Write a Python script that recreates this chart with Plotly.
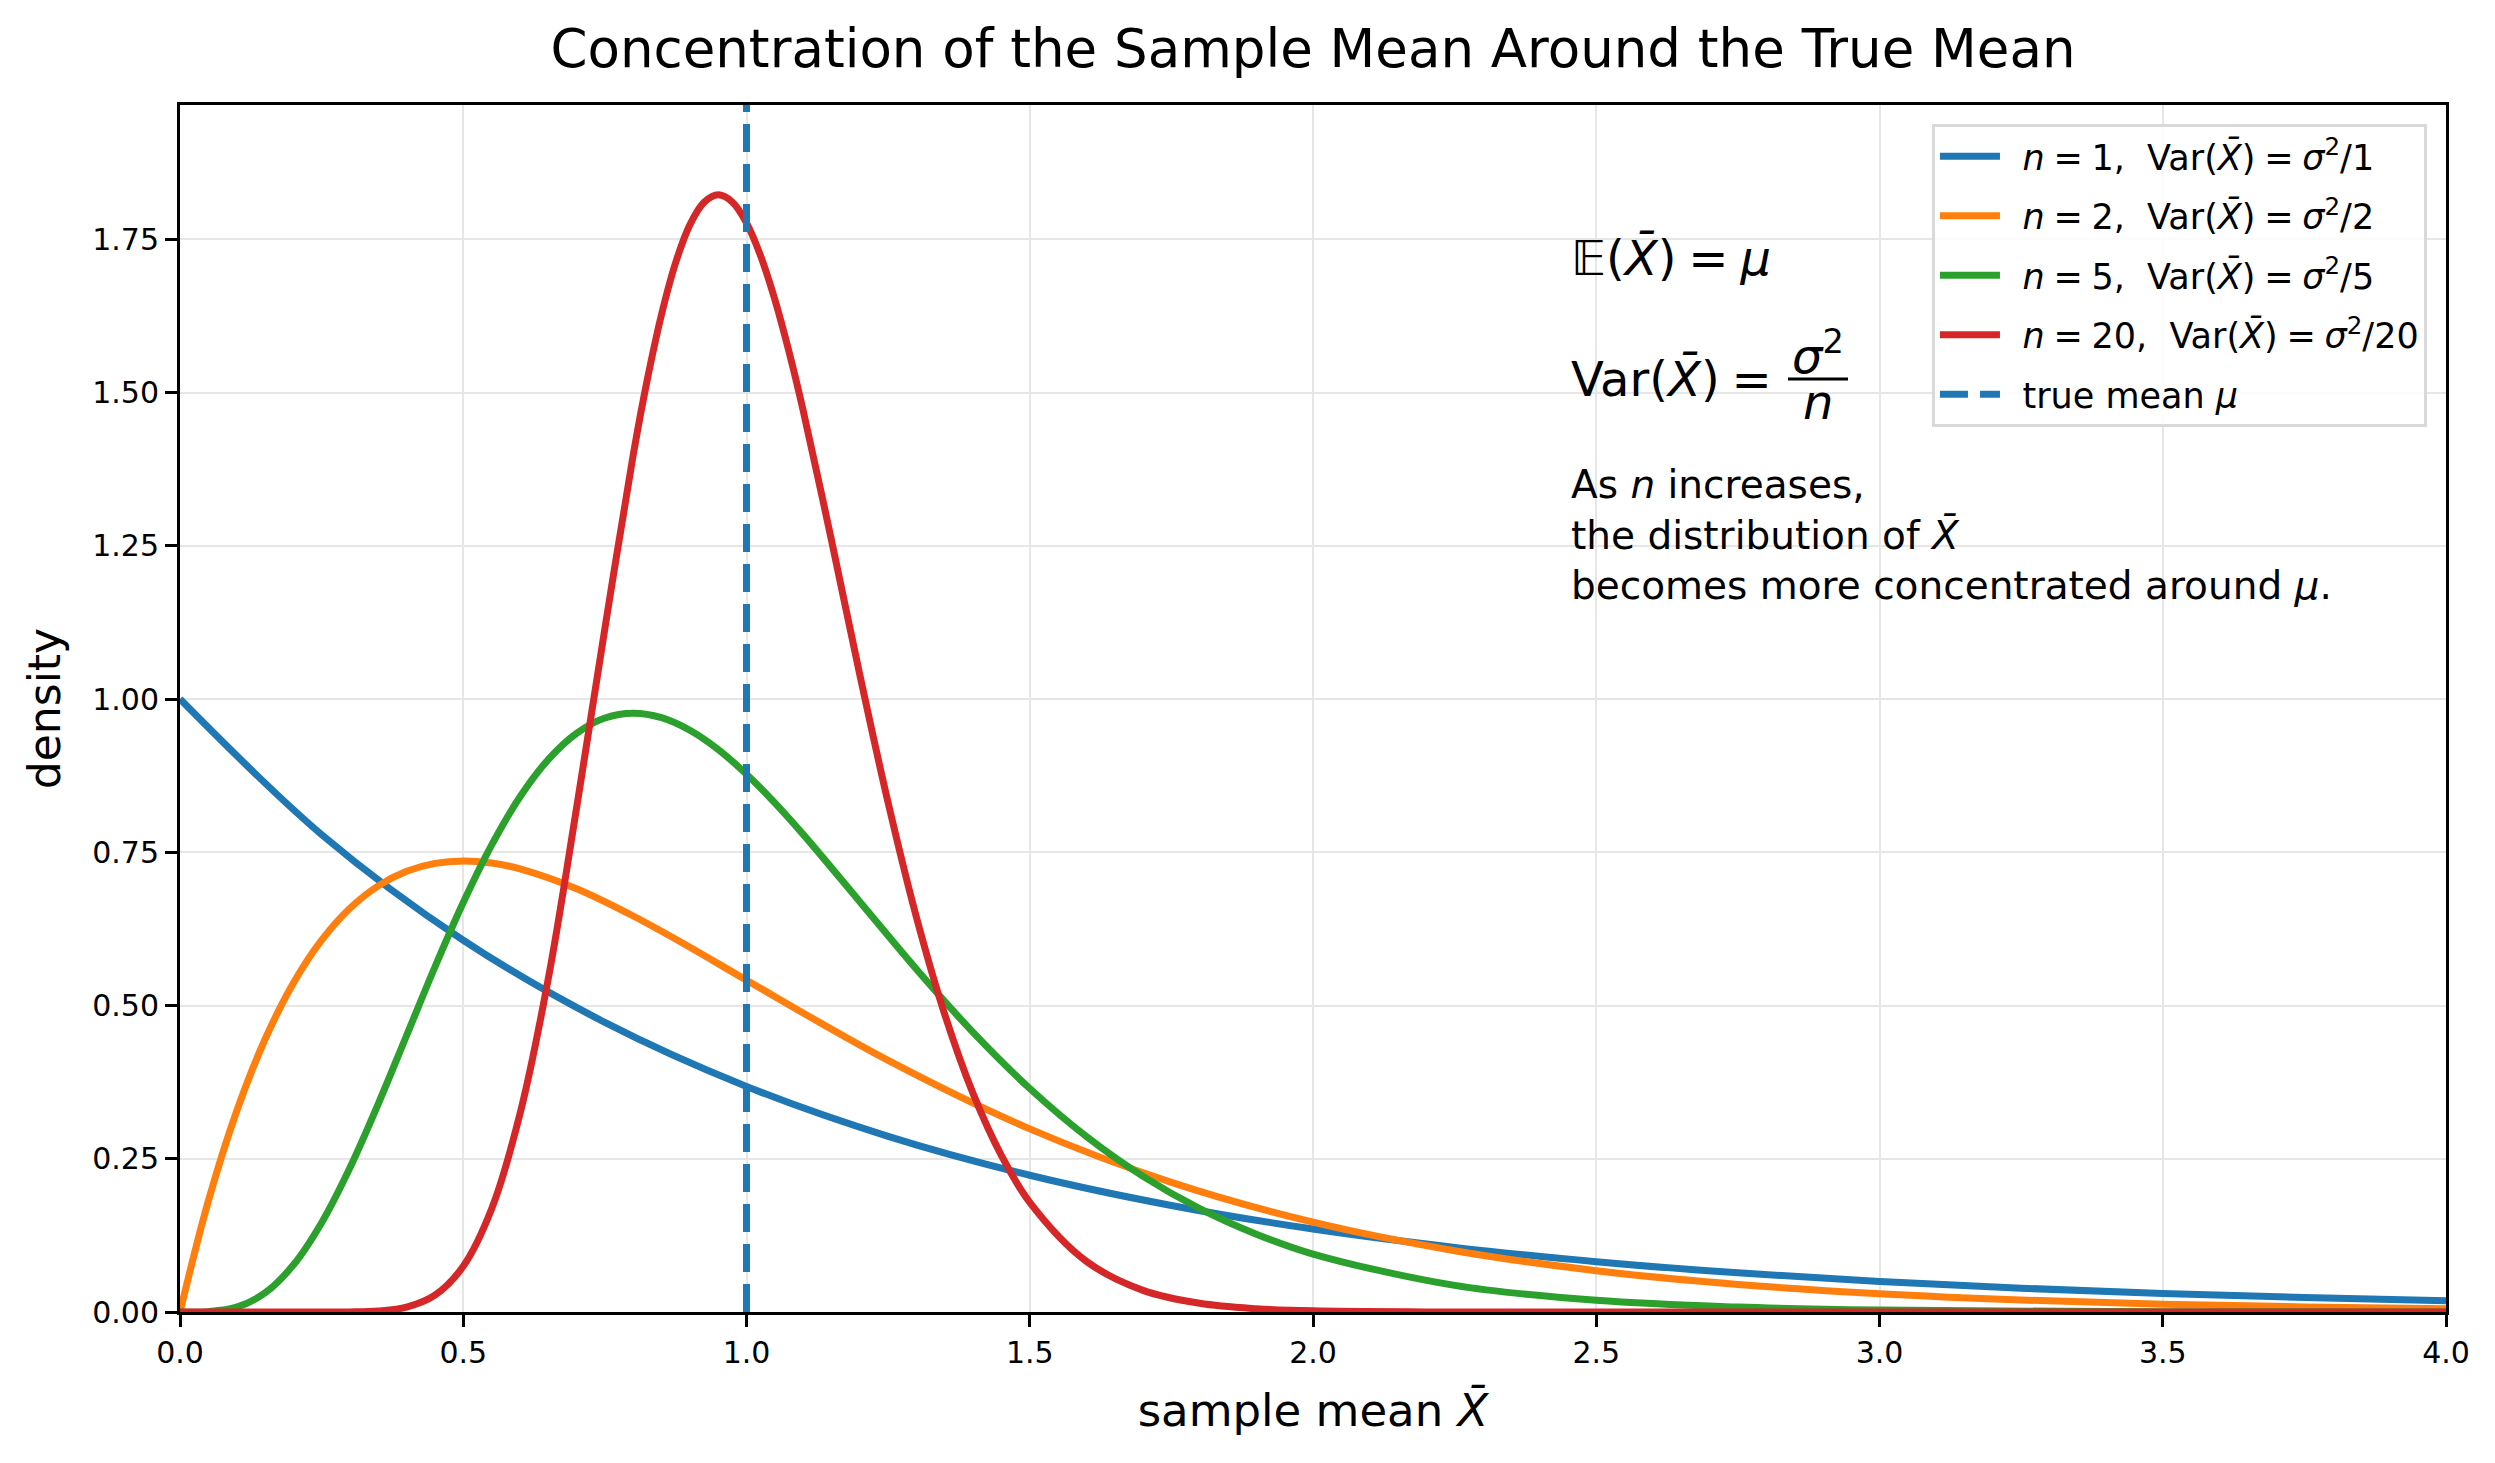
import plotly.graph_objects as go

# ---- data ----
x_n1 = [0, 0.25, 0.5, 0.75, 1.0, 1.25, 1.5, 1.75, 2.0, 2.25, 2.5, 2.75, 3.0, 3.25, 3.5, 3.75, 4.0]
y_n1 = [1.0, 0.7788, 0.6065, 0.4724, 0.3679, 0.2865, 0.2231, 0.1738, 0.1353, 0.1054, 0.0821,
        0.0639, 0.0498, 0.0388, 0.0302, 0.0235, 0.0183]

x_n2 = [0, 0.05, 0.1, 0.15, 0.2, 0.25, 0.3, 0.35, 0.4, 0.45, 0.5, 0.55, 0.6, 0.7, 0.8, 0.9, 1.0,
        1.25, 1.5, 1.75, 2.0, 2.25, 2.5, 2.75, 3.0, 3.25, 3.5, 3.75, 4.0]
y_n2 = [0.0, 0.1810, 0.3275, 0.4445, 0.5363, 0.6065, 0.6586, 0.6952, 0.7189, 0.7318, 0.7358,
        0.7324, 0.7229, 0.6905, 0.6460, 0.5951, 0.5413, 0.4104, 0.2987, 0.2114, 0.1465, 0.1000,
        0.0674, 0.0450, 0.0297, 0.0195, 0.0128, 0.0083, 0.0054]

x_n5 = [0, 0.05, 0.1, 0.15, 0.2, 0.25, 0.3, 0.35, 0.4, 0.45, 0.5, 0.55, 0.6, 0.65, 0.7, 0.75,
        0.8, 0.85, 0.9, 0.95, 1.0, 1.05, 1.1, 1.2, 1.3, 1.4, 1.5, 1.6, 1.7, 1.8, 1.9, 2.0, 2.25,
        2.5, 2.75, 3.0, 3.5, 4.0]
y_n5 = [0.0, 0.0006, 0.0079, 0.0311, 0.0766, 0.1457, 0.2353, 0.3395, 0.4511, 0.5628, 0.6680,
        0.7617, 0.8402, 0.9012, 0.9440, 0.9689, 0.9768, 0.9695, 0.9490, 0.9176, 0.8773, 0.8305,
        0.7791, 0.6693, 0.5591, 0.4561, 0.3646, 0.2863, 0.2213, 0.1687, 0.1270, 0.0946, 0.0434,
        0.0190, 0.0080, 0.0032, 0.0005, 0.0001]

x_n20 = [0, 0.1, 0.2, 0.25, 0.3, 0.35, 0.4, 0.45, 0.5, 0.55, 0.6, 0.65, 0.7, 0.75, 0.8, 0.825,
         0.85, 0.875, 0.9, 0.925, 0.95, 0.975, 1.0, 1.025, 1.05, 1.075, 1.1, 1.15, 1.2, 1.25,
         1.3, 1.35, 1.4, 1.45, 1.5, 1.6, 1.7, 1.8, 1.9, 2.0, 2.2, 2.5, 3.0, 4.0]
y_n20 = [0.0, 0.0, 0.0, 0.0, 0.0002, 0.0017, 0.0079, 0.0274, 0.0746, 0.1679, 0.3227, 0.5433,
         0.8219, 1.1149, 1.3980, 1.5215, 1.6273, 1.7120, 1.7735, 1.8102, 1.8224, 1.8107, 1.7768,
         1.7227, 1.6516, 1.5665, 1.4706, 1.2589, 1.0396, 0.8307, 0.6438, 0.4852, 0.3562, 0.2552,
         0.1788, 0.0825, 0.0353, 0.0142, 0.0054, 0.0019, 0.0002, 0.0, 0.0, 0.0]

true_mean = 1.0
x_range = [0, 4]
y_range = [0, 1.969]
x_ticks = [0.0, 0.5, 1.0, 1.5, 2.0, 2.5, 3.0, 3.5, 4.0]
y_ticks = [0.0, 0.25, 0.5, 0.75, 1.0, 1.25, 1.5, 1.75]

SP = "\u2005"   # narrow math spacing around '='
LEAD = "\u2002"  # gap between legend line sample and its text
def var_label(n):
    return f"{LEAD}<i>n</i>{SP}={SP}{n},  Var(<i>X̄</i>){SP}={SP}<i>σ</i><sup>2</sup>/{n}"

series = [
    (x_n1, y_n1, "#1f77b4", var_label(1)),
    (x_n2, y_n2, "#ff7f0e", var_label(2)),
    (x_n5, y_n5, "#2ca02c", var_label(5)),
    (x_n20, y_n20, "#d62728", var_label(20)),
]

FONT = "DejaVu Sans"
W, H = 2495, 1463
L, R, T, B = 180, 49, 105, 151

fig = go.Figure()
for i, (xs, ys, col, name) in enumerate(series):
    fig.add_trace(go.Scatter(x=xs, y=ys, mode="lines", name=name, legendgroup=f"g{i}",
                             line=dict(color=col, width=7, shape="spline", smoothing=1.0)))

fig.add_trace(go.Scatter(x=[true_mean, true_mean], y=y_range, mode="lines",
                         name=f"{LEAD}true mean <i>μ</i>", legendgroup="gmean",
                         line=dict(color="#1f77b4", width=7, dash="28px,12px")))

axis_common = dict(
    showline=True, linecolor="black", linewidth=3, mirror=True,
    ticks="outside", ticklen=12, tickwidth=3, tickcolor="black",
    showgrid=True, gridcolor="#e6e6e6", gridwidth=2,
    zeroline=False,
    tickfont=dict(family=FONT, size=30, color="black"),
)

fig.update_layout(
    width=W, height=H,
    margin=dict(l=L, r=R, t=T, b=B),
    paper_bgcolor="white", plot_bgcolor="white",
    font=dict(family=FONT, color="black"),
    title=dict(text="Concentration of the Sample Mean Around the True Mean",
               x=0.5, xref="paper", xanchor="center", y=1 - 48 / H, yanchor="middle",
               font=dict(family=FONT, size=53, color="black")),
    xaxis=dict(range=x_range, tickvals=x_ticks, ticktext=[f"{v:.1f}" for v in x_ticks],
               title=dict(text="sample mean <i>X̄</i>", font=dict(family=FONT, size=45, color="black"),
                          standoff=26),
               **axis_common),
    yaxis=dict(range=y_range, tickvals=y_ticks, ticktext=[f"{v:.2f}" for v in y_ticks],
               title=dict(text="density", font=dict(family=FONT, size=44, color="black"),
                          standoff=18),
               **axis_common),
    legend=dict(x=0.9916, y=0.9843, xanchor="right", yanchor="top",
                bgcolor="rgba(255,255,255,0.85)", bordercolor="#d9d9d9", borderwidth=3,
                font=dict(family=FONT, size=35, color="black"),
                itemwidth=60, tracegroupgap=11),
    showlegend=True,
)

# text block (paper coordinates)
def px_x(px):
    return (px - L) / (W - L - R)

def px_y(py):
    return (H - B - py) / (H - T - B)

fig.add_annotation(text=f"𝔼(<i>X̄</i>){SP}={SP}<i>μ</i>", xref="paper", yref="paper",
                   x=px_x(1569), y=px_y(258), xanchor="left", yanchor="middle",
                   showarrow=False, font=dict(family=FONT, size=48, color="black"))
fig.add_annotation(text=f"Var(<i>X̄</i>){SP}={SP}", xref="paper", yref="paper",
                   x=px_x(1569), y=px_y(379), xanchor="left", yanchor="middle",
                   showarrow=False, font=dict(family=FONT, size=48, color="black"))
fig.add_annotation(text="<i>σ</i><sup>2</sup>", xref="paper", yref="paper",
                   x=px_x(1818), y=px_y(379), xanchor="center", yanchor="bottom", yshift=-7,
                   showarrow=False, font=dict(family=FONT, size=48, color="black"))
fig.add_annotation(text="<i>n</i>", xref="paper", yref="paper",
                   x=px_x(1818), y=px_y(379), xanchor="center", yanchor="top", yshift=7,
                   showarrow=False, font=dict(family=FONT, size=48, color="black"))
fig.add_shape(type="line", xref="paper", yref="paper",
              x0=px_x(1788), x1=px_x(1848), y0=px_y(379), y1=px_y(379),
              line=dict(color="black", width=3))
fig.add_annotation(text="As <i>n</i> increases,<br>the distribution of <i>X̄</i><br>"
                        "becomes more concentrated around <i>μ</i>.",
                   xref="paper", yref="paper", x=px_x(1569), y=px_y(535),
                   xanchor="left", yanchor="middle", align="left",
                   showarrow=False, font=dict(family=FONT, size=39, color="black"))

fig.write_html("out.html", config={"displayModeBar": False},
               post_script="document.body.style.margin='0';document.body.style.overflow='hidden';")
